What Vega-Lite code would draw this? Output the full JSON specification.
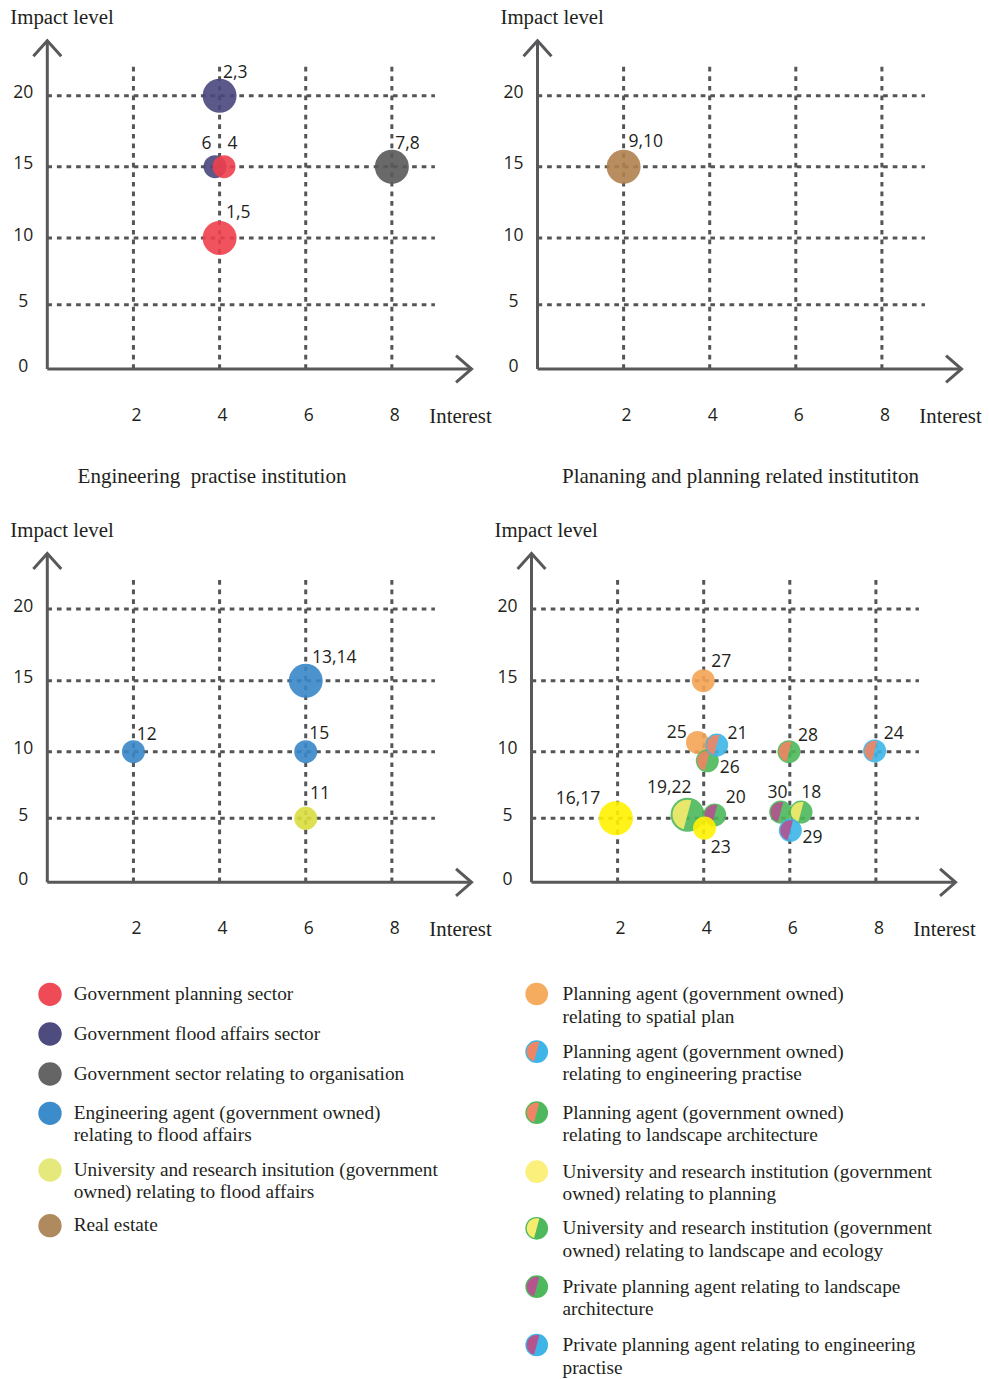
{
  "$schema": "https://vega.github.io/schema/vega-lite/v6.json",
  "width": 989,
  "height": 1379,
  "autosize": {"type": "fit", "contains": "padding"},
  "padding": 0,
  "background": "white",
  "config": {"view": {"stroke": null}, "axis": {"disable": true}, "legend": {"disable": true}},
  "resolve": {"scale": {"x": "independent", "y": "independent", "color": "independent", "fill": "independent"}},
  "layer": [
    {
      "layer": [
        {"data": {"values": [{"g": 2}, {"g": 4}, {"g": 6}, {"g": 8}]},
         "mark": {"type": "rule", "stroke": "#545557", "strokeWidth": 3, "strokeDash": [4.7, 4.9]},
         "encoding": {
           "x": {"field": "g", "type": "quantitative", "scale": {"domain": [0, 10], "range": [47.3, 478], "nice": false, "zero": false}},
           "y": {"datum": 0, "type": "quantitative", "scale": {"domain": [0, 5, 10, 15, 20], "range": [369, 304.7, 238, 166.7, 95.7], "nice": false, "zero": false}},
           "y2": {"datum": 22.1}}},
        {"data": {"values": [{"g": 5}, {"g": 10}, {"g": 15}, {"g": 20}]},
         "mark": {"type": "rule", "stroke": "#545557", "strokeWidth": 3, "strokeDash": [4.7, 4.9]},
         "encoding": {"y": {"field": "g", "type": "quantitative"}, "x": {"datum": 0, "type": "quantitative"}, "x2": {"datum": 9.0}}},
        {"data": {"values": [{}]},
         "mark": {"type": "rule", "stroke": "#58595b", "strokeWidth": 3},
         "encoding": {"x": {"datum": 0, "type": "quantitative"}, "x2": {"datum": 9.85}, "y": {"datum": 0, "type": "quantitative"}}},
        {"data": {"values": [{}]},
         "mark": {"type": "rule", "stroke": "#58595b", "strokeWidth": 3},
         "encoding": {"x": {"datum": 0, "type": "quantitative"}, "y": {"datum": 0, "type": "quantitative"}, "y2": {"datum": 23.87}}},
        {"data": {"values": [{}]},
         "mark": {"type": "point", "shape": "M-1,-0.87L0,0L-1,0.87", "filled": false, "stroke": "#58595b", "strokeWidth": 3, "size": 961, "opacity": 1},
         "encoding": {"x": {"datum": 9.85, "type": "quantitative"}, "y": {"datum": 0, "type": "quantitative"}}},
        {"data": {"values": [{}]},
         "mark": {"type": "point", "shape": "M-0.9,1L0,0L0.9,1", "filled": false, "stroke": "#58595b", "strokeWidth": 3, "size": 961, "opacity": 1},
         "encoding": {"x": {"datum": 0, "type": "quantitative"}, "y": {"datum": 23.87, "type": "quantitative"}}},
        {"data": {"values": [{"t": 2}, {"t": 4}, {"t": 6}, {"t": 8}]},
         "mark": {"type": "text", "font": "Open Sans", "fontSize": 17.5, "fill": "#231f20", "align": "center", "baseline": "middle", "dx": 3, "dy": 47},
         "encoding": {"x": {"field": "t", "type": "quantitative"}, "y": {"datum": 0, "type": "quantitative"}, "text": {"field": "t", "type": "nominal"}}},
        {"data": {"values": [{"t": 0}, {"t": 5}, {"t": 10}, {"t": 15}, {"t": 20}]},
         "mark": {"type": "text", "font": "Open Sans", "fontSize": 17.5, "fill": "#231f20", "align": "center", "baseline": "middle", "dx": -24, "dy": -2.5},
         "encoding": {"y": {"field": "t", "type": "quantitative"}, "x": {"datum": 0, "type": "quantitative"}, "text": {"field": "t", "type": "nominal"}}},
        {"data": {"values": [{}]},
         "mark": {"type": "text", "text": "Interest", "font": "Liberation Serif", "fontSize": 20.8, "fill": "#231f20", "align": "left", "baseline": "alphabetic", "dy": 53.5},
         "encoding": {"x": {"datum": 8.87, "type": "quantitative"}, "y": {"datum": 0, "type": "quantitative"}}},
        {"data": {"values": [{}]},
         "mark": {"type": "text", "text": "Impact level", "font": "Liberation Serif", "fontSize": 20.8, "fill": "#231f20", "align": "left", "baseline": "alphabetic", "dx": -37, "dy": -17},
         "encoding": {"x": {"datum": 0, "type": "quantitative"}, "y": {"datum": 23.87, "type": "quantitative"}}},
        {"data": {"values": [{}]},
         "mark": {"type": "text", "text": "Engineering\u00a0 practise institution", "font": "Liberation Serif", "fontSize": 21, "fill": "#231f20", "align": "center", "baseline": "alphabetic", "dy": 114.3},
         "encoding": {"x": {"datum": 3.824, "type": "quantitative"}, "y": {"datum": 0, "type": "quantitative"}}},
        {"data": {"values": [
           {"id": "1,5", "x": 4, "y": 10, "n": 2, "g": "gov_planning", "lx": 4.435, "ly": 11.73},
           {"id": "2,3", "x": 4, "y": 20, "n": 2, "g": "gov_flood", "lx": 4.365, "ly": 21.58},
           {"id": "6", "x": 3.894, "y": 15, "n": 1, "g": "gov_flood", "lx": 3.696, "ly": 16.62},
           {"id": "4", "x": 4.103, "y": 15, "n": 1, "g": "gov_planning", "lx": 4.3, "ly": 16.62},
           {"id": "7,8", "x": 8, "y": 15, "n": 2, "g": "gov_org", "lx": 8.363, "ly": 16.63}
         ]},
         "layer": [
           {"mark": {"type": "circle", "opacity": 0.9},
            "encoding": {
              "x": {"field": "x", "type": "quantitative"},
              "y": {"field": "y", "type": "quantitative"},
              "size": {"field": "n", "type": "quantitative", "scale": {"domain": [1, 2], "range": [529, 1156], "zero": false}, "legend": null},
              "color": {"field": "g", "type": "nominal", "scale": {"domain": ["gov_planning", "gov_flood", "gov_org"], "range": ["#ee3f4d", "#49467d", "#595959"]}, "legend": null}}},
           {"mark": {"type": "text", "font": "Open Sans", "fontSize": 17.5, "fill": "#231f20", "align": "center", "baseline": "middle"},
            "encoding": {"x": {"field": "lx", "type": "quantitative"}, "y": {"field": "ly", "type": "quantitative"}, "text": {"field": "id", "type": "nominal"}}}
         ]}
      ]
    },
    {
      "layer": [
        {"data": {"values": [{"g": 2}, {"g": 4}, {"g": 6}, {"g": 8}]},
         "mark": {"type": "rule", "stroke": "#545557", "strokeWidth": 3, "strokeDash": [4.7, 4.9]},
         "encoding": {
           "x": {"field": "g", "type": "quantitative", "scale": {"domain": [0, 10], "range": [537.5, 968], "nice": false, "zero": false}},
           "y": {"datum": 0, "type": "quantitative", "scale": {"domain": [0, 5, 10, 15, 20], "range": [369, 304.7, 238, 166.7, 95.7], "nice": false, "zero": false}},
           "y2": {"datum": 22.1}}},
        {"data": {"values": [{"g": 5}, {"g": 10}, {"g": 15}, {"g": 20}]},
         "mark": {"type": "rule", "stroke": "#545557", "strokeWidth": 3, "strokeDash": [4.7, 4.9]},
         "encoding": {"y": {"field": "g", "type": "quantitative"}, "x": {"datum": 0, "type": "quantitative"}, "x2": {"datum": 9.0}}},
        {"data": {"values": [{}]},
         "mark": {"type": "rule", "stroke": "#58595b", "strokeWidth": 3},
         "encoding": {"x": {"datum": 0, "type": "quantitative"}, "x2": {"datum": 9.85}, "y": {"datum": 0, "type": "quantitative"}}},
        {"data": {"values": [{}]},
         "mark": {"type": "rule", "stroke": "#58595b", "strokeWidth": 3},
         "encoding": {"x": {"datum": 0, "type": "quantitative"}, "y": {"datum": 0, "type": "quantitative"}, "y2": {"datum": 23.87}}},
        {"data": {"values": [{}]},
         "mark": {"type": "point", "shape": "M-1,-0.87L0,0L-1,0.87", "filled": false, "stroke": "#58595b", "strokeWidth": 3, "size": 961, "opacity": 1},
         "encoding": {"x": {"datum": 9.85, "type": "quantitative"}, "y": {"datum": 0, "type": "quantitative"}}},
        {"data": {"values": [{}]},
         "mark": {"type": "point", "shape": "M-0.9,1L0,0L0.9,1", "filled": false, "stroke": "#58595b", "strokeWidth": 3, "size": 961, "opacity": 1},
         "encoding": {"x": {"datum": 0, "type": "quantitative"}, "y": {"datum": 23.87, "type": "quantitative"}}},
        {"data": {"values": [{"t": 2}, {"t": 4}, {"t": 6}, {"t": 8}]},
         "mark": {"type": "text", "font": "Open Sans", "fontSize": 17.5, "fill": "#231f20", "align": "center", "baseline": "middle", "dx": 3, "dy": 47},
         "encoding": {"x": {"field": "t", "type": "quantitative"}, "y": {"datum": 0, "type": "quantitative"}, "text": {"field": "t", "type": "nominal"}}},
        {"data": {"values": [{"t": 0}, {"t": 5}, {"t": 10}, {"t": 15}, {"t": 20}]},
         "mark": {"type": "text", "font": "Open Sans", "fontSize": 17.5, "fill": "#231f20", "align": "center", "baseline": "middle", "dx": -24, "dy": -2.5},
         "encoding": {"y": {"field": "t", "type": "quantitative"}, "x": {"datum": 0, "type": "quantitative"}, "text": {"field": "t", "type": "nominal"}}},
        {"data": {"values": [{}]},
         "mark": {"type": "text", "text": "Interest", "font": "Liberation Serif", "fontSize": 20.8, "fill": "#231f20", "align": "left", "baseline": "alphabetic", "dy": 53.5},
         "encoding": {"x": {"datum": 8.87, "type": "quantitative"}, "y": {"datum": 0, "type": "quantitative"}}},
        {"data": {"values": [{}]},
         "mark": {"type": "text", "text": "Impact level", "font": "Liberation Serif", "fontSize": 20.8, "fill": "#231f20", "align": "left", "baseline": "alphabetic", "dx": -37, "dy": -17},
         "encoding": {"x": {"datum": 0, "type": "quantitative"}, "y": {"datum": 23.87, "type": "quantitative"}}},
        {"data": {"values": [{}]},
         "mark": {"type": "text", "text": "Plananing and planning related institutiton", "font": "Liberation Serif", "fontSize": 21, "fill": "#231f20", "align": "center", "baseline": "alphabetic", "dy": 114.3},
         "encoding": {"x": {"datum": 4.715, "type": "quantitative"}, "y": {"datum": 0, "type": "quantitative"}}},
        {"data": {"values": [
           {"id": "9,10", "x": 2, "y": 15, "n": 2, "g": "real_estate", "lx": 2.516, "ly": 16.76}
         ]},
         "layer": [
           {"mark": {"type": "circle", "opacity": 0.9},
            "encoding": {
              "x": {"field": "x", "type": "quantitative"},
              "y": {"field": "y", "type": "quantitative"},
              "size": {"field": "n", "type": "quantitative", "scale": {"domain": [1, 2], "range": [529, 1156], "zero": false}, "legend": null},
              "color": {"field": "g", "type": "nominal", "scale": {"domain": ["real_estate"], "range": ["#b0824f"]}, "legend": null}}},
           {"mark": {"type": "text", "font": "Open Sans", "fontSize": 17.5, "fill": "#231f20", "align": "center", "baseline": "middle"},
            "encoding": {"x": {"field": "lx", "type": "quantitative"}, "y": {"field": "ly", "type": "quantitative"}, "text": {"field": "id", "type": "nominal"}}}
         ]}
      ]
    },
    {
      "layer": [
        {"data": {"values": [{"g": 2}, {"g": 4}, {"g": 6}, {"g": 8}]},
         "mark": {"type": "rule", "stroke": "#545557", "strokeWidth": 3, "strokeDash": [4.7, 4.9]},
         "encoding": {
           "x": {"field": "g", "type": "quantitative", "scale": {"domain": [0, 10], "range": [47.3, 478], "nice": false, "zero": false}},
           "y": {"datum": 0, "type": "quantitative", "scale": {"domain": [0, 5, 10, 15, 20], "range": [882.3, 818.3, 751.7, 680.7, 609], "nice": false, "zero": false}},
           "y2": {"datum": 22.1}}},
        {"data": {"values": [{"g": 5}, {"g": 10}, {"g": 15}, {"g": 20}]},
         "mark": {"type": "rule", "stroke": "#545557", "strokeWidth": 3, "strokeDash": [4.7, 4.9]},
         "encoding": {"y": {"field": "g", "type": "quantitative"}, "x": {"datum": 0, "type": "quantitative"}, "x2": {"datum": 9.0}}},
        {"data": {"values": [{}]},
         "mark": {"type": "rule", "stroke": "#58595b", "strokeWidth": 3},
         "encoding": {"x": {"datum": 0, "type": "quantitative"}, "x2": {"datum": 9.85}, "y": {"datum": 0, "type": "quantitative"}}},
        {"data": {"values": [{}]},
         "mark": {"type": "rule", "stroke": "#58595b", "strokeWidth": 3},
         "encoding": {"x": {"datum": 0, "type": "quantitative"}, "y": {"datum": 0, "type": "quantitative"}, "y2": {"datum": 23.87}}},
        {"data": {"values": [{}]},
         "mark": {"type": "point", "shape": "M-1,-0.87L0,0L-1,0.87", "filled": false, "stroke": "#58595b", "strokeWidth": 3, "size": 961, "opacity": 1},
         "encoding": {"x": {"datum": 9.85, "type": "quantitative"}, "y": {"datum": 0, "type": "quantitative"}}},
        {"data": {"values": [{}]},
         "mark": {"type": "point", "shape": "M-0.9,1L0,0L0.9,1", "filled": false, "stroke": "#58595b", "strokeWidth": 3, "size": 961, "opacity": 1},
         "encoding": {"x": {"datum": 0, "type": "quantitative"}, "y": {"datum": 23.87, "type": "quantitative"}}},
        {"data": {"values": [{"t": 2}, {"t": 4}, {"t": 6}, {"t": 8}]},
         "mark": {"type": "text", "font": "Open Sans", "fontSize": 17.5, "fill": "#231f20", "align": "center", "baseline": "middle", "dx": 3, "dy": 47},
         "encoding": {"x": {"field": "t", "type": "quantitative"}, "y": {"datum": 0, "type": "quantitative"}, "text": {"field": "t", "type": "nominal"}}},
        {"data": {"values": [{"t": 0}, {"t": 5}, {"t": 10}, {"t": 15}, {"t": 20}]},
         "mark": {"type": "text", "font": "Open Sans", "fontSize": 17.5, "fill": "#231f20", "align": "center", "baseline": "middle", "dx": -24, "dy": -2.5},
         "encoding": {"y": {"field": "t", "type": "quantitative"}, "x": {"datum": 0, "type": "quantitative"}, "text": {"field": "t", "type": "nominal"}}},
        {"data": {"values": [{}]},
         "mark": {"type": "text", "text": "Interest", "font": "Liberation Serif", "fontSize": 20.8, "fill": "#231f20", "align": "left", "baseline": "alphabetic", "dy": 53.5},
         "encoding": {"x": {"datum": 8.87, "type": "quantitative"}, "y": {"datum": 0, "type": "quantitative"}}},
        {"data": {"values": [{}]},
         "mark": {"type": "text", "text": "Impact level", "font": "Liberation Serif", "fontSize": 20.8, "fill": "#231f20", "align": "left", "baseline": "alphabetic", "dx": -37, "dy": -17},
         "encoding": {"x": {"datum": 0, "type": "quantitative"}, "y": {"datum": 23.87, "type": "quantitative"}}},
        {"data": {"values": [
           {"id": "13,14", "x": 6, "y": 15, "n": 2, "g": "eng_agent", "lx": 6.661, "ly": 16.56},
           {"id": "12", "x": 2, "y": 10, "n": 1, "g": "eng_agent", "lx": 2.308, "ly": 11.21},
           {"id": "15", "x": 6, "y": 10, "n": 1, "g": "eng_agent", "lx": 6.313, "ly": 11.27},
           {"id": "11", "x": 6, "y": 5, "n": 1, "g": "univ_flood", "lx": 6.332, "ly": 6.82}
         ]},
         "layer": [
           {"mark": {"type": "circle", "opacity": 0.9},
            "encoding": {
              "x": {"field": "x", "type": "quantitative"},
              "y": {"field": "y", "type": "quantitative"},
              "size": {"field": "n", "type": "quantitative", "scale": {"domain": [1, 2], "range": [529, 1156], "zero": false}, "legend": null},
              "color": {"field": "g", "type": "nominal", "scale": {"domain": ["eng_agent", "univ_flood"], "range": ["#3886c7", "#d9de3e"]}, "legend": null}}},
           {"mark": {"type": "text", "font": "Open Sans", "fontSize": 17.5, "fill": "#231f20", "align": "center", "baseline": "middle"},
            "encoding": {"x": {"field": "lx", "type": "quantitative"}, "y": {"field": "ly", "type": "quantitative"}, "text": {"field": "id", "type": "nominal"}}}
         ]}
      ]
    },
    {
      "layer": [
        {"data": {"values": [{"g": 2}, {"g": 4}, {"g": 6}, {"g": 8}]},
         "mark": {"type": "rule", "stroke": "#545557", "strokeWidth": 3, "strokeDash": [4.7, 4.9]},
         "encoding": {
           "x": {"field": "g", "type": "quantitative", "scale": {"domain": [0, 10], "range": [531.5, 962], "nice": false, "zero": false}},
           "y": {"datum": 0, "type": "quantitative", "scale": {"domain": [0, 5, 10, 15, 20], "range": [882.3, 818.3, 751.7, 680.7, 609], "nice": false, "zero": false}},
           "y2": {"datum": 22.1}}},
        {"data": {"values": [{"g": 5}, {"g": 10}, {"g": 15}, {"g": 20}]},
         "mark": {"type": "rule", "stroke": "#545557", "strokeWidth": 3, "strokeDash": [4.7, 4.9]},
         "encoding": {"y": {"field": "g", "type": "quantitative"}, "x": {"datum": 0, "type": "quantitative"}, "x2": {"datum": 9.0}}},
        {"data": {"values": [{}]},
         "mark": {"type": "rule", "stroke": "#58595b", "strokeWidth": 3},
         "encoding": {"x": {"datum": 0, "type": "quantitative"}, "x2": {"datum": 9.85}, "y": {"datum": 0, "type": "quantitative"}}},
        {"data": {"values": [{}]},
         "mark": {"type": "rule", "stroke": "#58595b", "strokeWidth": 3},
         "encoding": {"x": {"datum": 0, "type": "quantitative"}, "y": {"datum": 0, "type": "quantitative"}, "y2": {"datum": 23.87}}},
        {"data": {"values": [{}]},
         "mark": {"type": "point", "shape": "M-1,-0.87L0,0L-1,0.87", "filled": false, "stroke": "#58595b", "strokeWidth": 3, "size": 961, "opacity": 1},
         "encoding": {"x": {"datum": 9.85, "type": "quantitative"}, "y": {"datum": 0, "type": "quantitative"}}},
        {"data": {"values": [{}]},
         "mark": {"type": "point", "shape": "M-0.9,1L0,0L0.9,1", "filled": false, "stroke": "#58595b", "strokeWidth": 3, "size": 961, "opacity": 1},
         "encoding": {"x": {"datum": 0, "type": "quantitative"}, "y": {"datum": 23.87, "type": "quantitative"}}},
        {"data": {"values": [{"t": 2}, {"t": 4}, {"t": 6}, {"t": 8}]},
         "mark": {"type": "text", "font": "Open Sans", "fontSize": 17.5, "fill": "#231f20", "align": "center", "baseline": "middle", "dx": 3, "dy": 47},
         "encoding": {"x": {"field": "t", "type": "quantitative"}, "y": {"datum": 0, "type": "quantitative"}, "text": {"field": "t", "type": "nominal"}}},
        {"data": {"values": [{"t": 0}, {"t": 5}, {"t": 10}, {"t": 15}, {"t": 20}]},
         "mark": {"type": "text", "font": "Open Sans", "fontSize": 17.5, "fill": "#231f20", "align": "center", "baseline": "middle", "dx": -24, "dy": -2.5},
         "encoding": {"y": {"field": "t", "type": "quantitative"}, "x": {"datum": 0, "type": "quantitative"}, "text": {"field": "t", "type": "nominal"}}},
        {"data": {"values": [{}]},
         "mark": {"type": "text", "text": "Interest", "font": "Liberation Serif", "fontSize": 20.8, "fill": "#231f20", "align": "left", "baseline": "alphabetic", "dy": 53.5},
         "encoding": {"x": {"datum": 8.87, "type": "quantitative"}, "y": {"datum": 0, "type": "quantitative"}}},
        {"data": {"values": [{}]},
         "mark": {"type": "text", "text": "Impact level", "font": "Liberation Serif", "fontSize": 20.8, "fill": "#231f20", "align": "left", "baseline": "alphabetic", "dx": -37, "dy": -17},
         "encoding": {"x": {"datum": 0, "type": "quantitative"}, "y": {"datum": 23.87, "type": "quantitative"}}},
        {"data": {"values": [
           {"id": "25", "x": 3.856, "y": 10.65, "n": 1, "g": "spatial", "lx": 3.373, "ly": 11.3},
           {"id": "26", "x": 4.084, "y": 9.32, "n": 1, "g": "land", "lx": 4.604, "ly": 8.81},
           {"id": "27", "x": 3.99, "y": 15, "n": 1, "g": "spatial", "lx": 4.407, "ly": 16.32},
           {"id": "28", "x": 5.98, "y": 10, "n": 1, "g": "land", "lx": 6.423, "ly": 11.08},
           {"id": "24", "x": 7.97, "y": 10.05, "n": 1, "g": "eng", "lx": 8.413, "ly": 11.27},
           {"id": "16,17", "x": 1.96, "y": 5, "n": 2, "g": "univ_plan", "lx": 1.08, "ly": 6.46},
           {"id": "19,22", "x": 3.624, "y": 5.27, "n": 2, "g": "univ_land", "lx": 3.199, "ly": 7.27},
           {"id": "30", "x": 5.788, "y": 5.47, "n": 1, "g": "priv_land", "lx": 5.714, "ly": 6.88},
           {"id": "21", "x": 4.302, "y": 10.47, "n": 1, "g": "eng", "lx": 4.785, "ly": 11.27},
           {"id": "20", "x": 4.255, "y": 5.25, "n": 1, "g": "priv_land", "lx": 4.746, "ly": 6.5},
           {"id": "18", "x": 6.26, "y": 5.47, "n": 1, "g": "univ_land", "lx": 6.5, "ly": 6.88},
           {"id": "23", "x": 4.019, "y": 4.24, "n": 1, "g": "univ_plan", "lx": 4.397, "ly": 2.66},
           {"id": "29", "x": 6.012, "y": 4.06, "n": 1, "g": "priv_eng", "lx": 6.527, "ly": 3.5}
         ]},
         "layer": [
           {"transform": [{"filter": {"field": "id", "oneOf": ["25", "26", "27", "28", "24", "16,17", "19,22", "30"]}}],
            "mark": {"type": "circle", "opacity": 0.9},
            "encoding": {
              "x": {"field": "x", "type": "quantitative"},
              "y": {"field": "y", "type": "quantitative"},
              "size": {"field": "n", "type": "quantitative", "scale": {"domain": [1, 2], "range": [529, 1156], "zero": false}, "legend": null},
              "color": {"field": "g", "type": "nominal", "scale": {"domain": ["spatial", "eng", "land", "univ_plan", "univ_land", "priv_land", "priv_eng"], "range": ["#f4a455", "#3db5e8", "#4cb85a", "#fff200", "#4cb85a", "#4cb85a", "#3db5e8"]}, "legend": null}}},
           {"transform": [{"filter": {"field": "id", "oneOf": ["26", "28", "24", "19,22", "30"]}}],
            "mark": {"type": "point", "shape": "M0.228,-0.85A0.88,0.88,0,0,0,-0.228,0.85Z", "filled": true, "opacity": 0.9},
            "encoding": {
              "x": {"field": "x", "type": "quantitative"},
              "y": {"field": "y", "type": "quantitative"},
              "size": {"field": "n", "type": "quantitative", "scale": {"domain": [1, 2], "range": [529, 1156], "zero": false}, "legend": null},
              "fill": {"field": "g", "type": "nominal", "scale": {"domain": ["eng", "land", "univ_land", "priv_land", "priv_eng"], "range": ["#ef8463", "#ef8463", "#f5eb6c", "#b3528f", "#b3528f"]}, "legend": null}}},
           {"transform": [{"filter": {"field": "id", "oneOf": ["21", "20", "18"]}}],
            "mark": {"type": "circle", "opacity": 0.9},
            "encoding": {
              "x": {"field": "x", "type": "quantitative"},
              "y": {"field": "y", "type": "quantitative"},
              "size": {"field": "n", "type": "quantitative", "legend": null},
              "color": {"field": "g", "type": "nominal", "legend": null}}},
           {"transform": [{"filter": {"field": "id", "oneOf": ["21", "20", "18"]}}],
            "mark": {"type": "point", "shape": "M0.228,-0.85A0.88,0.88,0,0,0,-0.228,0.85Z", "filled": true, "opacity": 0.9},
            "encoding": {
              "x": {"field": "x", "type": "quantitative"},
              "y": {"field": "y", "type": "quantitative"},
              "size": {"field": "n", "type": "quantitative", "legend": null},
              "fill": {"field": "g", "type": "nominal", "legend": null}}},
           {"transform": [{"filter": {"field": "id", "oneOf": ["23", "29"]}}],
            "mark": {"type": "circle", "opacity": 0.9},
            "encoding": {
              "x": {"field": "x", "type": "quantitative"},
              "y": {"field": "y", "type": "quantitative"},
              "size": {"field": "n", "type": "quantitative", "legend": null},
              "color": {"field": "g", "type": "nominal", "legend": null}}},
           {"transform": [{"filter": {"field": "id", "oneOf": ["29"]}}],
            "mark": {"type": "point", "shape": "M0.228,-0.85A0.88,0.88,0,0,0,-0.228,0.85Z", "filled": true, "opacity": 0.9},
            "encoding": {
              "x": {"field": "x", "type": "quantitative"},
              "y": {"field": "y", "type": "quantitative"},
              "size": {"field": "n", "type": "quantitative", "legend": null},
              "fill": {"field": "g", "type": "nominal", "legend": null}}},
           {"mark": {"type": "text", "font": "Open Sans", "fontSize": 17.5, "fill": "#231f20", "align": "center", "baseline": "middle"},
            "encoding": {"x": {"field": "lx", "type": "quantitative"}, "y": {"field": "ly", "type": "quantitative"}, "text": {"field": "id", "type": "nominal"}}}
         ]}
      ]
    },
    {
      "data": {"values": [
        {"i": 1, "g": "gov_planning", "label": "Government planning sector"},
        {"i": 2, "g": "gov_flood", "label": "Government flood affairs sector"},
        {"i": 3, "g": "gov_org", "label": "Government sector relating to organisation"},
        {"i": 4, "g": "eng_agent", "label": "Engineering agent (government owned)\nrelating to flood affairs"},
        {"i": 5, "g": "univ_flood", "label": "University and research insitution (government\nowned) relating to flood affairs"},
        {"i": 6, "g": "real_estate", "label": "Real estate"}
      ]},
      "layer": [
        {"mark": {"type": "circle", "size": 545, "opacity": 1},
         "encoding": {
           "x": {"datum": 0, "type": "quantitative", "scale": {"domain": [0, 1], "range": [50, 73.7], "nice": false, "zero": false}},
           "y": {"field": "i", "type": "quantitative", "scale": {"domain": [1, 2, 3, 4, 5, 6], "range": [994.3, 1034, 1074, 1113.3, 1170, 1225.7], "nice": false, "zero": false}},
           "color": {"field": "g", "type": "nominal", "scale": {"domain": ["gov_planning", "gov_flood", "gov_org", "eng_agent", "univ_flood", "real_estate"], "range": ["#ef4b56", "#4e4b7e", "#656565", "#3c8bcb", "#e5e97b", "#b08a5f"]}, "legend": null}}},
        {"mark": {"type": "text", "font": "Liberation Serif", "fontSize": 19.3, "fill": "#231f20", "align": "left", "baseline": "alphabetic", "dy": 5.5, "lineBreak": "\n", "lineHeight": 22.7},
         "encoding": {
           "x": {"datum": 1, "type": "quantitative"},
           "y": {"field": "i", "type": "quantitative"},
           "text": {"field": "label", "type": "nominal"}}}
      ]
    },
    {
      "data": {"values": [
        {"i": 1, "g": "spatial", "label": "Planning agent (government owned)\nrelating to spatial plan"},
        {"i": 2, "g": "eng", "label": "Planning agent (government owned)\nrelating to engineering practise"},
        {"i": 3, "g": "land", "label": "Planning agent (government owned)\nrelating to landscape architecture"},
        {"i": 4, "g": "univ_plan", "label": "University and research institution (government\nowned) relating to planning"},
        {"i": 5, "g": "univ_land", "label": "University and research institution (government\nowned) relating to landscape and ecology"},
        {"i": 6, "g": "priv_land", "label": "Private planning agent relating to landscape\narchitecture"},
        {"i": 7, "g": "priv_eng", "label": "Private planning agent relating to engineering\npractise"}
      ]},
      "layer": [
        {"mark": {"type": "circle", "size": 515, "opacity": 1},
         "encoding": {
           "x": {"datum": 0, "type": "quantitative", "scale": {"domain": [0, 1], "range": [536.7, 562.5], "nice": false, "zero": false}},
           "y": {"field": "i", "type": "quantitative", "scale": {"domain": [1, 2, 3, 4, 5, 6, 7], "range": [994, 1051.7, 1112.7, 1171.7, 1228.3, 1286.7, 1345], "nice": false, "zero": false}},
           "color": {"field": "g", "type": "nominal", "scale": {"domain": ["spatial", "eng", "land", "univ_plan", "univ_land", "priv_land", "priv_eng"], "range": ["#f6ac5f", "#3fb4e6", "#4db95c", "#faf07b", "#4db95c", "#4db95c", "#3fb4e6"]}, "legend": null}}},
        {"transform": [{"filter": {"field": "g", "oneOf": ["eng", "land", "univ_land", "priv_land", "priv_eng"]}}],
         "mark": {"type": "point", "shape": "M0.228,-0.85A0.88,0.88,0,0,0,-0.228,0.85Z", "filled": true, "size": 515, "opacity": 1},
         "encoding": {
           "x": {"datum": 0, "type": "quantitative"},
           "y": {"field": "i", "type": "quantitative"},
           "fill": {"field": "g", "type": "nominal", "scale": {"domain": ["eng", "land", "univ_land", "priv_land", "priv_eng"], "range": ["#ef8565", "#ef8565", "#f6ec6e", "#b5558f", "#b5558f"]}, "legend": null}}},
        {"mark": {"type": "text", "font": "Liberation Serif", "fontSize": 19.3, "fill": "#231f20", "align": "left", "baseline": "alphabetic", "dy": 6, "lineBreak": "\n", "lineHeight": 22.7},
         "encoding": {
           "x": {"datum": 1, "type": "quantitative"},
           "y": {"field": "i", "type": "quantitative"},
           "text": {"field": "label", "type": "nominal"}}}
      ]
    }
  ]
}
